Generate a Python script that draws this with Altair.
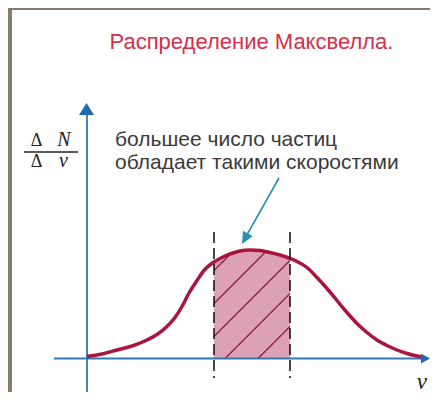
import altair as alt
import numpy as np
import pandas as pd

# ---- data (diagram units: 1 unit = 10 px) ----
curve_v = [0, 1.5, 3.0, 4.5, 6.0, 7.0, 8.0, 8.8, 9.5, 10.2, 11.0, 11.7, 12.4, 12.7,
           13.5, 14.3, 15.3, 16.3, 17.3, 18.3, 19.3, 20.3, 21.0, 22.0, 23.0, 24.0,
           25.0, 26.0, 27.0, 28.0, 29.0, 30.0, 31.0, 32.0, 33.0, 33.6]
curve_f = [0.2, 0.45, 0.85, 1.25, 1.85, 2.4, 3.2, 4.1, 5.2, 6.55, 7.8, 8.8, 9.45, 9.65,
           10.1, 10.45, 10.75, 10.85, 10.8, 10.6, 10.35, 10.0, 9.7, 9.1, 8.1, 7.0,
           5.8, 4.6, 3.5, 2.6, 1.85, 1.3, 0.85, 0.5, 0.25, 0.15]
band = [12.7, 20.3]
hatch_offsets = [3.9, 7.2, 10.5, 13.8, 17.1]

title_text = "Распределение Максвелла."
label_lines = ["большее число частиц", "обладает такими скоростями"]

XMIN, XMAX = -7.9, 34.3
YMIN, YMAX = -3.35, 35.05
xs = alt.Scale(domain=[XMIN, XMAX], nice=False, zero=False)
ys = alt.Scale(domain=[YMIN, YMAX], nice=False, zero=False)

def X(f="x"):
    return alt.X(f"{f}:Q", scale=xs, axis=None)

def Y(f="y"):
    return alt.Y(f"{f}:Q", scale=ys, axis=None)

curve = pd.DataFrame({"x": curve_v, "y": curve_f})
band_df = curve[(curve.x >= band[0]) & (curve.x <= band[1])]

# hatch segments clipped to the band under the curve
fine = np.linspace(band[0], band[1], 800)
rows = []
for i, x0 in enumerate(hatch_offsets):
    xx = fine[fine >= x0]
    yy = xx - x0
    ok = yy <= np.interp(xx, curve_v, curve_f) - 0.1
    xx = xx[ok]
    if len(xx) == 0:
        continue
    rows.append({"x": xx[0], "y": xx[0] - x0, "x2": xx[-1], "y2": xx[-1] - x0})
hatch = pd.DataFrame(rows)

olive = "#857e6a"
borders = pd.DataFrame({"x": [XMIN, XMIN], "x2": [-7.5, XMAX],
                        "y": [YMIN, 34.85], "y2": [YMAX, YMAX]})

layers = []
layers.append(alt.Chart(borders).mark_rect(color=olive).encode(
    x=X(), x2="x2", y=Y(), y2="y2"))

layers.append(alt.Chart(band_df).mark_area(color="#dca2b4", interpolate="monotone", opacity=1).encode(
    x=X(), y=Y(), y2=alt.datum(0)))

layers.append(alt.Chart(hatch).mark_rule(color="#8e1d42", strokeWidth=1.3).encode(
    x=X(), y=Y(), x2="x2", y2="y2"))

# axes
axes = pd.DataFrame({"x": [0, -3.3], "x2": [0, 33.6], "y": [YMIN, 0], "y2": [24.8, 0]})
layers.append(alt.Chart(axes).mark_rule(color="#3577b5", strokeWidth=1.8).encode(
    x=X(), x2="x2", y=Y(), y2="y2"))

layers.append(alt.Chart(curve).mark_line(color="#a8163f", strokeWidth=3.5, interpolate="monotone").encode(
    x=X(), y=Y()))

dashed = pd.DataFrame({"x": band, "y": [12.65, 12.65], "y2": [-1.95, -1.95]})
layers.append(alt.Chart(dashed).mark_rule(color="#1a1a1a", strokeWidth=1.6, strokeDash=[11, 5]).encode(
    x=X(), y=Y(), y2="y2"))

# arrow heads
up = pd.DataFrame({"x": [-0.05], "y": [25.55]})
layers.append(alt.Chart(up).mark_point(shape="M0,0L0.75,1.2L-0.75,1.2Z", size=400, filled=True,
                                       fill="#1f6bb0", strokeWidth=0, opacity=1).encode(x=X(), y=Y()))
right = pd.DataFrame({"x": [XMAX], "y": [0]})
layers.append(alt.Chart(right).mark_point(shape="M0,0L-1,-0.55L-1,0.55Z", size=324, filled=True,
                                          fill="#1f6bb0", strokeWidth=0, opacity=1).encode(x=X(), y=Y()))

# pointer arrow
pointer = pd.DataFrame({"x": [19.2], "y": [18.05], "x2": [15.9], "y2": [12.2]})
layers.append(alt.Chart(pointer).mark_rule(color="#2a8fae", strokeWidth=1.6).encode(
    x=X(), y=Y(), x2="x2", y2="y2"))
tip = pd.DataFrame({"x": [15.5], "y": [11.45]})
layers.append(alt.Chart(tip).mark_point(shape="M0,0L0.55,1.2L-0.55,1.2Z", size=400, angle=209, filled=True,
                                        fill="#2a8fae", strokeWidth=0, opacity=1).encode(x=X(), y=Y()))

# texts
t_title = pd.DataFrame({"x": [16.45], "y": [31.0], "t": [title_text]})
layers.append(alt.Chart(t_title).mark_text(font="Liberation Sans", fontSize=22, color="#d2304b",
                                           align="center", baseline="alphabetic").encode(
    x=X(), y=Y(), text="t:N"))

t_lab = pd.DataFrame({"x": [2.8, 2.8], "y": [21.25, 19.0], "t": label_lines})
layers.append(alt.Chart(t_lab).mark_text(font="Liberation Sans", fontSize=21, color="#3a3a3a",
                                         align="left", baseline="alphabetic").encode(
    x=X(), y=Y(), text="t:N"))

t_delta = pd.DataFrame({"x": [-5.05, -5.05], "y": [21.3, 19.2], "t": ["Δ", "Δ"]})
layers.append(alt.Chart(t_delta).mark_text(font="Liberation Serif", fontSize=18, color="#222222",
                                           align="center", baseline="alphabetic").encode(
    x=X(), y=Y(), text="t:N"))
t_var = pd.DataFrame({"x": [-2.3, -2.35], "y": [21.3, 19.2], "t": ["N", "v"]})
layers.append(alt.Chart(t_var).mark_text(font="Liberation Serif", fontSize=20, fontStyle="italic",
                                         color="#222222", align="center", baseline="alphabetic").encode(
    x=X(), y=Y(), text="t:N"))
frac = pd.DataFrame({"x": [-6.3], "x2": [-0.9], "y": [20.65]})
layers.append(alt.Chart(frac).mark_rule(color="#222222", strokeWidth=1.3).encode(
    x=X(), x2="x2", y=Y()))

t_v = pd.DataFrame({"x": [34.0], "y": [-3.0], "t": ["v"]})
layers.append(alt.Chart(t_v).mark_text(font="Liberation Serif", fontSize=23, fontStyle="italic",
                                       color="#222222", align="right", baseline="alphabetic").encode(
    x=X(), y=Y(), text="t:N"))

chart = alt.layer(*layers).properties(
    width=422, height=384, padding=0, autosize=alt.AutoSizeParams(type="none"),
    background="white"
).configure_view(strokeWidth=0)

chart.save("out.html", embed_options={"renderer": "svg", "actions": False})
